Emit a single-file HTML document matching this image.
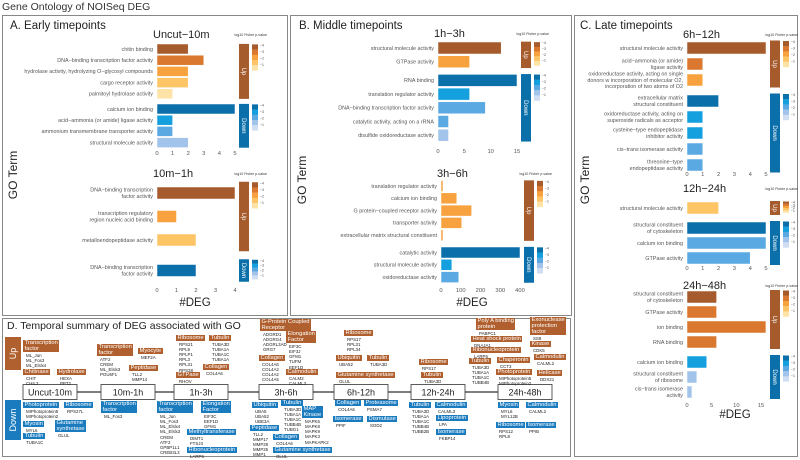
<!DOCTYPE html>
<html><head><meta charset="utf-8">
<style>
body{margin:0;background:#fff;font-family:"Liberation Sans",sans-serif;}
#wrap{position:relative;width:800px;height:460px;overflow:hidden;}
svg{position:absolute;left:0;top:0;}
.tag{position:absolute;color:#fff;font-size:5.8px;line-height:6.1px;padding:0 1.5px;white-space:pre;}
.genes{position:absolute;font-size:4.4px;line-height:5.2px;color:#222;white-space:pre;}
</style></head><body>
<div id="wrap">
<svg id="svg" width="800" height="460"></svg>
</div>
<script>
// ---------- chart data ----------
const A1_terms=["chitin binding","DNA−binding transcription factor activity","hydrolase activity, hydrolyzing O−glycosyl compounds","cargo receptor activity","palmitoyl hydrolase activity","calcium ion binding","acid−ammonia (or amide) ligase activity","ammonium transmembrane transporter activity","structural molecule activity"];
const A1_values=[2,3,2,2,1,5,1,1,2];
const A1_levels=[0,1,2,3,4,0,1,2,3];
const A1_nUp=5;
const A1_ticks=[0,1,2,3,4,5];

const A2_terms=["DNA−binding transcription\nfactor activity","transcription regulatory\nregion nucleic acid binding","metalloendopeptidase activity","DNA−binding transcription\nfactor activity"];
const A2_values=[4,1,2,2];
const A2_levels=[0,2,3,0];
const A2_nUp=3;
const A2_ticks=[0,1,2,3,4];

const B1_terms=["structural molecule activity","GTPase activity","RNA binding","translation regulator activity","DNA−binding transcription factor activity","catalytic activity, acting on a rRNA","disulfide oxidoreductase activity"];
const B1_values=[12,6,15,6,9,2,2];
const B1_levels=[0,2,0,1,2,2,3];
const B1_nUp=2;
const B1_ticks=[0,5,10,15];

const B2_terms=["translation regulator activity","calcium ion binding","G protein−coupled receptor activity","transporter activity","extracellular matrix structural constituent","catalytic activity","structural molecule activity","oxidoreductase activity"];
const B2_values=[10,80,155,105,10,400,55,90];
const B2_levels=[2,2,2,2,2,0,1,2];
const B2_nUp=5;
const B2_ticks=[0,100,200,300,400];

const C1_terms=["structural molecule activity","acid−ammonia (or amide)\nligase activity","oxidoreductase activity, acting on single\ndonors w incorporation of molecular O2,\nincorporation of two atoms of O2","extracellular matrix\nstructural constituent","oxidoreductase activity, acting on\nsuperoxide radicals as acceptor","cysteine−type endopeptidase\ninhibitor activity","cis−trans isomerase activity","threonine−type\nendopeptidase activity"];
const C1_values=[5,1,1,2,1,1,1,1];
const C1_levels=[0,1,2,0,1,1,2,2];
const C1_nUp=3;
const C1_ticks=[0,1,2,3,4,5];

const C2_terms=["structural molecule activity","structural constituent\nof cytoskeleton","calcium ion binding","GTPase activity"];
const C2_values=[2,5,5,4];
const C2_levels=[3,0,2,2];
const C2_nUp=1;
const C2_ticks=[0,1,2,3,4,5];

const C3_terms=["structural constituent\nof cytoskeleton","GTPase activity","ion binding","RNA binding","calcium ion binding","structural constituent\nof ribosome","cis−trans isomerase\nactivity"];
const C3_values=[6,6,16,6,4,2,1];
const C3_levels=[0,1,1,1,1,3,3];
const C3_nUp=4;
const C3_ticks=[0,5,10,15];

const UPCOL=['#a65b2d','#d9782e','#f7a23f','#fdc566','#fde3a6'];
const DNCOL=['#0b6faa','#149fde','#5aa9e2','#a3c4ea','#d0def3'];
const NS='http://www.w3.org/2000/svg';
const svg=document.getElementById('svg');
function el(tag,attrs,parent){const e=document.createElementNS(NS,tag);for(const k in attrs)e.setAttribute(k,attrs[k]);(parent||svg).appendChild(e);return e;}
function txt(x,y,s,size,fill,anchor,parent){const t=el('text',{x:x,y:y,'font-size':size,fill:fill||'#222','text-anchor':anchor||'start','font-family':'Liberation Sans, sans-serif'},parent);t.textContent=s;return t;}

function chart(name,title,terms,values,levels,nUp,ticks,L){
  const g=el('g',{});
  
  
  const tmax=ticks[ticks.length-1];
  const xs=v=>L.x0+(v/tmax)*(L.x1-L.x0);
  const yc=i=>L.y0+i*L.step+(i>=nUp?L.gap:0);
  const tt=txt(L.x0-4,L.ty,title,11,'#222','start',g);
  
  
  values.forEach((v,i)=>{
    const col=(i<nUp?UPCOL:DNCOL)[levels[i]];
    const r=el('rect',{x:xs(0),y:yc(i)-L.h/2,width:Math.max(0,xs(v)-xs(0)),height:L.h,fill:col,stroke:'#fff','stroke-width':0.5},g);
    
    
    const lines=terms[i].split('\n');
    lines.forEach((ln,k)=>{
      const t=txt(L.x0-4,yc(i)+1.8+(k-(lines.length-1)/2)*6.2,ln,5.4,'#555','end',g);
      
      
    });
  });
  ticks.forEach(v=>{
    const t=txt(xs(v),L.tickY,String(v),5.8,'#555','middle',g);
    
    
  });
  const sx=L.stripX, sw=10;
  const upTop=yc(0)-L.step/2, upBot=yc(nUp-1)+L.step/2;
  const dnTop=yc(nUp)-L.step/2, dnBot=yc(values.length-1)+L.step/2;
  [[upTop,upBot,'#a65b2d','Up'],[dnTop,dnBot,'#0b6faa','Down']].forEach(([a,b,c,lab])=>{
    if(b<=a)return;
    const r=el('rect',{x:sx,y:a+0.5,width:sw,height:b-a-1,fill:c},g);
    
    
    const t=txt(0,0,lab,6,'#fff','middle',g);
    t.setAttribute('transform',`translate(${sx+3},${(a+b)/2}) rotate(90)`);
    const lx=sx+13, lh=Math.min(26,b-a-4);
    const cols=lab=='Up'?UPCOL:DNCOL;
    for(let k=0;k<5;k++){el('rect',{x:lx,y:a+1+k*lh/5,width:6,height:lh/5+0.2,fill:cols[k]},g);}
    for(let k=0;k<4;k++){txt(lx+8,a+3+k*lh/4,'−'+(4-k),3.4,'#444','start',g);}
  });
  const lt=txt(sx+28,L.ty-2,'log10 Fisher p-value',3.6,'#333','end',g);
  
  
}

function box(x,y,w,h,n){const r=el('rect',{x:x,y:y,width:w,height:h,fill:'none',stroke:'#888','stroke-width':1});}
box(2.5,15.5,285,300,'panel-a');
box(290.5,15.5,281,300,'panel-b');
box(574.5,15.5,223,441,'panel-c');
box(2.5,318.5,568,138,'panel-d');
let t;
t=txt(2,10,'Gene Ontology of NOISeq DEG',10.5,'#333');
t=txt(10,29,'A. Early timepoints',11.5,'#222');
t=txt(299,29,'B. Middle timepoints',11.5,'#222');
t=txt(580,29,'C. Late timepoints',11.5,'#222');
t=txt(7,329,'D. Temporal summary of DEG associated with GO',10.5,'#222');
[[17,175,'a'],[306,180,'b'],[589,180,'c']].forEach(([x,y,p])=>{const q=txt(0,0,'GO Term',12,'#222','middle');q.setAttribute('transform',`translate(${x},${y}) rotate(-90)`);});
[[195,306,'a'],[472,306,'b'],[735,418,'c']].forEach(([x,y,p])=>{const q=txt(x,y,'#DEG',11.5,'#222','middle');});

chart('uncut-10m','Uncut−10m',A1_terms,A1_values,A1_levels,A1_nUp,A1_ticks,{x0:157,x1:235,y0:49,step:11.2,gap:4,h:10,ty:38,tickY:155,stripX:239});
chart('10m-1h','10m−1h',A2_terms,A2_values,A2_levels,A2_nUp,A2_ticks,{x0:157,x1:235,y0:193,step:23.5,gap:7,h:12,ty:177,tickY:292,stripX:239});
chart('1h-3h','1h−3h',B1_terms,B1_values,B1_levels,B1_nUp,B1_ticks,{x0:438,x1:517,y0:48,step:13.7,gap:5,h:12,ty:37,tickY:153,stripX:521});
chart('3h-6h','3h−6h',B2_terms,B2_values,B2_levels,B2_nUp,B2_ticks,{x0:441,x1:520,y0:186,step:12.3,gap:5,h:11,ty:177,tickY:292,stripX:524});
chart('6h-12h','6h−12h',C1_terms,C1_values,C1_levels,C1_nUp,C1_ticks,{x0:687,x1:766,y0:48,step:16,gap:5,h:12,ty:38,tickY:176,stripX:770});
chart('12h-24h','12h−24h',C2_terms,C2_values,C2_levels,C2_nUp,C2_ticks,{x0:687,x1:766,y0:208,step:15,gap:5,h:12,ty:192,tickY:270,stripX:770});
chart('24h-48h','24h−48h',C3_terms,C3_values,C3_levels,C3_nUp,C3_ticks,{x0:687,x1:761,y0:297,step:15,gap:5,h:12,ty:289,tickY:407,stripX:770});

const wrap=document.getElementById('wrap');
function div(cls,x,y,s,bg){const d=document.createElement('div');d.className=cls;d.style.left=x+'px';d.style.top=y+'px';if(bg)d.style.background=bg;d.textContent=s;wrap.appendChild(d);return d;}
[['Up',5,337,33,'#b0602e'],['Down',5,400,40,'#1a7bbf']].forEach(([s,x,y,h,c])=>{
  const r=el('rect',{x:x,y:y,width:16,height:h,fill:c});
  const q=txt(0,0,s,9,'#fff','middle');q.setAttribute('transform',`translate(${x+11},${y+h/2}) rotate(-90)`);
});
const tp=[['Uncut-10m',23],['10m-1h',101],['1h-3h',174],['3h-6h',259],['6h-12h',334],['12h-24h',411],['24h-48h',498]];
el('line',{x1:77,y1:392,x2:498,y2:392,stroke:'#333','stroke-width':1.2});
tp.forEach(([s,x])=>{
  const r=el('rect',{x:x,y:384.5,width:54,height:15,fill:'#fff',stroke:'#333','stroke-width':0.8});
  
  txt(x+27,395.5,s,9,'#222','middle');
});
const B='#b0602e',L='#1a7bbf';
const tags=[
['Transcription\nfactor',23,340,B,'ML_Jun\nML_Fos3\nML_Elslx4'],
['Chitinase',23,369,B,'CHIT\nCHIL3'],
['Hydrolase',57,369,B,'HEXA\nPPT2'],
['Transcription\nfactor',97,344,B,'ATF2\nCREM\nML_Elslx3\nPOU6F1'],
['Myocyte',138,348,B,'MEF2A'],
['Peptidase',129,365,B,'TLL2\nMMP14'],
['Ribosome',176,335,B,'RPS21\nRPL9\nRPLP1\nRPL3\nRPL31\nRPS28'],
['Tubulin',209,335,B,'TUBA3D\nTUBA1A\nTUBA1C\nTUBA1A'],
['Collagen',203,364,B,'COL4A6'],
['GTPase',176,372,B,'RHOV'],
['G-Protein Coupled\nReceptor',260,319,B,'ADGRD1\nADGRG4\nADGRL3AD\nGRG7'],
['Elongation\nFactor',286,331,B,'EIF3C\nEIF3J\nGFM1\nTUFM\nEEF1D'],
['Collagen',259,355,B,'COL4A6\nCOL4A2\nCOL4A2\nCOL4A5'],
['Calmodulin',286,369,B,'CALM2\nCALML3'],
['Ribosome',344,330,B,'RPS17\nRPL31\nRPL34'],
['Ubiquitin',336,355,B,'UBA52'],
['Tubulin',367,355,B,'TUBA3D'],
['Glutamine synthetase',336,372,B,'GLUL'],
['Ribosome',419,359,B,'RPS17'],
['Tubulin',421,372,B,'TUBA3D'],
['Poly A binding\nprotein',476,318,B,'PABPC1'],
['Heat shock protein',471,336,B,'DNAJA1'],
['Ribonucleoprotein',471,347,B,'LARP6'],
['Tubulin',469,358,B,'TUBA3D\nTUBA1A\nTUBA1C\nTUBB4B'],
['Chaperonin',497,357,B,'CCT3'],
['Photoprotein',496,369,B,'MIPhotoprotein5\nMIPhotoprotein2'],
['Exonuclease\nprotection\nfactor',530,317,B,'SS8'],
['Kinase',530,341,B,'CDK5'],
['Calmodulin',534,354,B,'CALML2'],
['Helicase',537,370,B,'DDX21'],
['Photoprotein',23,402,L,'MIPhotoprotein5\nMIPhotoprotein2'],
['Ribosome',64,402,L,'RPS27L'],
['Myosin',23,421,L,'MYL6'],
['Glutamine\nsynthetase',55,420,L,'GLUL'],
['Tubulin',23,433,L,'TUBA1C'],
['Transcription\nfactor',101,401,L,'ML_Fos3'],
['Transcription\nfactor',157,401,L,'ML_Jun\nML_Fos3\nML_Elslx4\nML_Elslx3\nCREM\nATF2\nGPBP1L1\nCREB3L3'],
['Elongation\nFactor',201,401,L,'EIF3C\nEEF1D\nGFM1'],
['Methyltransferase',187,429,L,'DIMT1\nFTSJ3'],
['Ribonucleoprotein',187,447,L,'LARP6'],
['Ubiquitin',252,402,L,'UBA5\nUBA52\nUBE3A'],
['Peptidase',250,425,L,'TLL2\nMMP17\nMMP28\nMMP25\nMMP1'],
['Tubulin',281,400,L,'TUBA3D\nTUBA1A\nTUBA1C\nTUBB4B\nTUBG1'],
['MAP\nKinase',302,406,L,'MAPK6\nMAPK8\nMAPK9\nMAPK3\nMAPKAPK2'],
['Collagen',273,434,L,'COL4A6'],
['Glutamine synthetase',273,447,L,'GLUL'],
['Collagen',335,400,L,'COL4A6'],
['Proteasome',364,400,L,'PSMA7'],
['Isomerase',333,416,L,'PPIF'],
['Dismutase',367,416,L,'SOD2'],
['Tubulin',409,402,L,'TUBA3D\nTUBA1A\nTUBA1C\nTUBB4B\nTUBB2B'],
['Calmodulin',435,402,L,'CALML3'],
['Lipoprotein',436,415,L,'LPA'],
['Isomerase',436,429,L,'FKBP14'],
['Myosin',498,402,L,'MYL6\nMYL12B'],
['Calmodulin',526,402,L,'CALML2'],
['Ribosome',496,422,L,'RPS12\nRPL8'],
['Isomerase',526,422,L,'PPIB']
];
tags.forEach(([s,x,y,c,genes])=>{
  const d=div('tag',x,y,s,c);
  
  
  const n=s.split('\n').length;
  const g=div('genes',x+3,y+n*6.1+0.5,genes);
  
  
});
</script>
</body></html>
